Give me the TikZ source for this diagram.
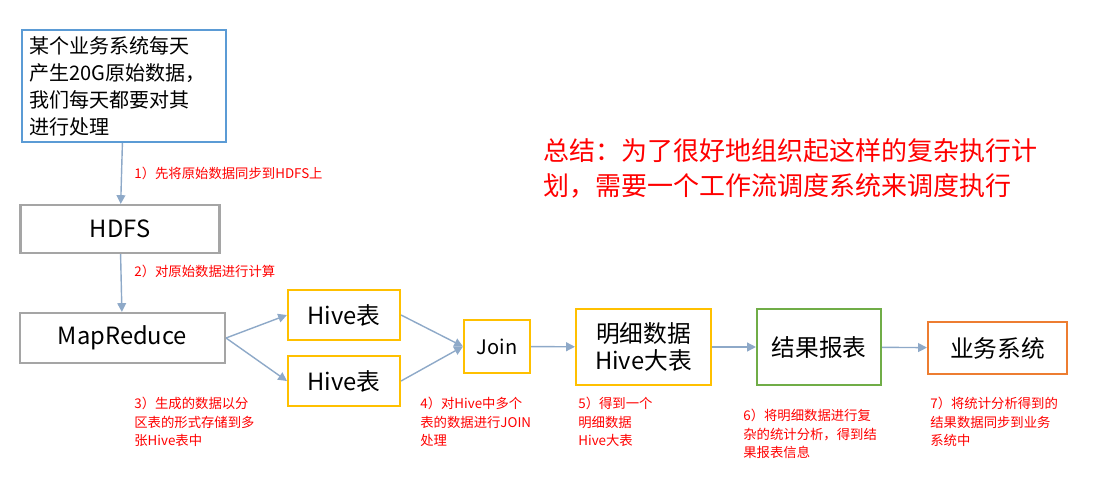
\documentclass[tikz,border=0pt]{standalone}
\usepackage{fontspec}
\setmainfont{Noto Sans CJK SC}
\usetikzlibrary{arrows.meta}
\definecolor{bbl}{HTML}{5B9BD5}
\definecolor{gry}{HTML}{A5A5A5}
\definecolor{org}{HTML}{FFC000}
\definecolor{grn}{HTML}{70AD47}
\definecolor{ord}{HTML}{ED7D31}
\definecolor{arr}{HTML}{8EA9C8}
\definecolor{lbl}{HTML}{FF0000}
\tikzset{
 box/.style={draw, line width=1.2pt, inner sep=0pt, align=center, font=\fontsize{13.5pt}{16pt}\selectfont},
 lab/.style={anchor=north west, align=left, text=lbl, inner sep=0pt, font=\fontsize{7.6pt}{10.5pt}\selectfont},
 con/.style={draw=arr, line width=0.8pt, -{Triangle[length=5pt,width=5pt]}}
}
\begin{document}
\begin{tikzpicture}[x=0.02cm,y=-0.02cm]
\useasboundingbox (0,0) rectangle (1108,497);
\node[box, draw=bbl, minimum width=4.08cm, minimum height=2.24cm, text width=3.8cm, align=left, font=\fontsize{11.4pt}{15.4pt}\selectfont] (src) at (124,86) {某个业务系统每天\\产生20G原始数据，\\我们每天都要对其\\进行处理};
\node[box, draw=gry, minimum width=3.98cm, minimum height=0.96cm] (hdfs) at (120,229) {HDFS};
\node[box, draw=gry, minimum width=4.1cm, minimum height=1.0cm] (mr) at (122.5,338) {MapReduce};
\node[box, draw=org, minimum width=2.24cm, minimum height=1.0cm] (h1) at (344,315) {Hive表};
\node[box, draw=org, minimum width=2.24cm, minimum height=1.0cm] (h2) at (344,381) {Hive表};
\node[box, draw=org, minimum width=1.32cm, minimum height=1.06cm, font=\fontsize{11.4pt}{14pt}\selectfont] (join) at (497,346.5) {Join};
\node[box, draw=org, minimum width=2.7cm, minimum height=1.52cm, font=\fontsize{13.5pt}{15.5pt}\selectfont] (mx) at (643.5,347) {明细数据\\Hive大表};
\node[box, draw=grn, minimum width=2.48cm, minimum height=1.52cm] (jg) at (819,347) {结果报表};
\node[box, draw=ord, minimum width=2.78cm, minimum height=1.04cm] (yw) at (997.5,348) {业务系统};
\draw[con] (src) -- (hdfs);
\draw[con] (hdfs) -- (mr);
\draw[con] (mr.east) -- (h1.west);
\draw[con] (mr.east) -- (h2.west);
\draw[con] (h1.east) -- (join.west);
\draw[con] (h2.east) -- (join.west);
\draw[con] (join) -- (mx);
\draw[con] (mx) -- (jg);
\draw[con] (jg) -- (yw);
\node[lab] (l1) at (134,167) {1）先将原始数据同步到HDFS上};
\node[lab] (l2) at (134,265) {2）对原始数据进行计算};
\node[lab] (l3) at (134,397) {3）生成的数据以分\\区表的形式存储到多\\张Hive表中};
\node[lab] (l4) at (420,397) {4）对Hive中多个\\表的数据进行JOIN\\处理};
\node[lab] (l5) at (578,397) {5）得到一个\\明细数据\\Hive大表};
\node[lab] (l6) at (743,409) {6）将明细数据进行复\\杂的统计分析，得到结\\果报表信息};
\node[lab] (l7) at (930,397) {7）将统计分析得到的\\结果数据同步到业务\\系统中};
\node[anchor=north west, align=left, text=lbl, inner sep=0pt, font=\fontsize{14.8pt}{20pt}\selectfont] (sum) at (543,138) {总结：为了很好地组织起这样的复杂执行计\\划，需要一个工作流调度系统来调度执行};
\end{tikzpicture}
\end{document}
